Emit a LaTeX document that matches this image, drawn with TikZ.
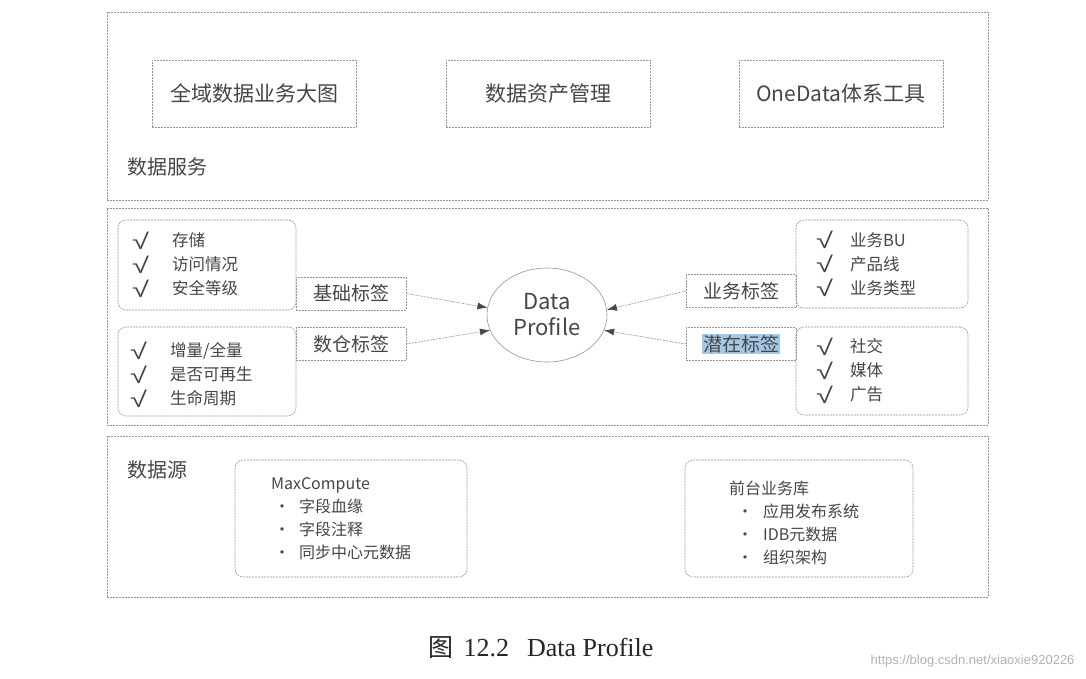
\documentclass[tikz,border=0pt]{standalone}
\usepackage{fontspec}
\usepackage{graphicx}
\setmainfont{Noto Sans CJK SC}
\newfontfamily\capfont{Liberation Serif}
\newfontfamily\markfont{Liberation Sans}
\usetikzlibrary{shapes.geometric,arrows.meta}

\definecolor{linegray}{RGB}{150,150,150}
\definecolor{inkgray}{RGB}{70,70,70}
\definecolor{hlblue}{RGB}{165,200,228}

\newcommand{\chk}{\raisebox{-2.5pt}{\scalebox{1.4}[1]{\markfont\fontsize{22}{24}\selectfont √}}}

\begin{document}
\begin{tikzpicture}[x=1pt, y=-1pt,
    dashline/.style={draw=linegray, dash pattern=on 2pt off 1pt, line width=0.6pt},
    layer/.style={dashline, inner sep=0pt},
    panel/.style={dashline, minimum width=204pt, minimum height=67pt, font=\fontsize{21}{25}\selectfont},
    itembox/.style={dashline, rounded corners=8pt, inner sep=0pt},
    tag/.style={dashline, minimum width=110pt, minimum height=33pt, inner sep=1pt, font=\fontsize{19}{22}\selectfont},
    caption/.style={anchor=west, font=\fontsize{20}{24}\selectfont},
    list/.style={anchor=west, align=left, inner sep=0pt, font=\fontsize{16.5}{24}\selectfont},
    srclist/.style={anchor=west, align=left, inner sep=0pt, font=\fontsize{16}{23}\selectfont},
    link/.style={-{Latex[length=10pt,width=7pt,color=inkgray,fill=inkgray]}, dashline}
]
\useasboundingbox[fill=white] (0,0) rectangle (1086,678);
\begin{scope}[text=inkgray]

% Data service layer
\node[layer, minimum width=881pt, minimum height=188pt] (service) at (547.5,106) {};
\node[panel] (bigmap) at (254,93.5) {全域数据业务大图};
\node[panel] (assets) at (548,93.5) {数据资产管理};
\node[panel] (tools)  at (841,93.5) {OneData体系工具};
\node[caption] (servicelbl) at (124,167) {数据服务};

% Tag layer
\node[layer, minimum width=881pt, minimum height=217pt] (tagging) at (547.5,316.5) {};
\node[itembox, minimum width=178pt, minimum height=90pt] (basicbox) at (207,265) {};
\node[itembox, minimum width=178pt, minimum height=89pt] (dwbox)    at (207,371.5) {};
\node[itembox, minimum width=172pt, minimum height=88pt] (bizbox)   at (882,264) {};
\node[itembox, minimum width=172pt, minimum height=88pt] (latbox)   at (882,371) {};

\node[list] (basiclist) at (132,266) {%
  \begin{tabular}{@{}l@{\hspace{23pt}}l@{}}\chk & 存储\\ \chk & 访问情况\\ \chk & 安全等级\end{tabular}};
\node[list] (dwlist) at (130,376) {%
  \begin{tabular}{@{}l@{\hspace{23pt}}l@{}}\chk & 增量/全量\\ \chk & 是否可再生\\ \chk & 生命周期\end{tabular}};
\node[list] (bizlist) at (816,265.5) {%
  \begin{tabular}{@{}l@{\hspace{17pt}}l@{}}\chk & 业务BU\\ \chk & 产品线\\ \chk & 业务类型\end{tabular}};
\node[list] (latlist) at (816,372) {%
  \begin{tabular}{@{}l@{\hspace{17pt}}l@{}}\chk & 社交\\ \chk & 媒体\\ \chk & 广告\end{tabular}};

\node[tag] (basic)  at (351,293.5) {基础标签};
\node[tag] (dw)     at (351,344)   {数仓标签};
\node[tag] (biz)    at (741,291)   {业务标签};
\node[tag] (latent) at (741,344)   {\setlength\fboxsep{1pt}\colorbox{hlblue}{潜在标签}};

\node[ellipse, draw=linegray, line width=0.6pt, minimum width=120pt, minimum height=94pt,
      align=center, inner sep=0pt, font=\fontsize{22}{26}\selectfont] (profile) at (547,315) {Data\\Profile};

\draw[link] (basic.east)  -- (profile.173);
\draw[link] (dw.east)     -- (profile.195);
\draw[link] (biz.west)    -- (profile.5);
\draw[link] (latent.west) -- (profile.-15);

% Data source layer
\node[layer, minimum width=881pt, minimum height=161pt] (source) at (547.5,516.5) {};
\node[caption] (sourcelbl) at (124,470) {数据源};
\node[itembox, minimum width=232pt, minimum height=117pt] (mcbox) at (351,518.5) {};
\node[itembox, minimum width=228pt, minimum height=117pt] (fgbox) at (799,518.5) {};
\node[srclist] (mclist) at (271,519) {MaxCompute\\
  \hspace*{3pt}·\hspace*{9pt}字段血缘\\
  \hspace*{3pt}·\hspace*{9pt}字段注释\\
  \hspace*{3pt}·\hspace*{9pt}同步中心元数据};
\node[srclist] (fglist) at (729,522.5) {前台业务库\\
  \hspace*{8pt}·\hspace*{10pt}应用发布系统\\
  \hspace*{8pt}·\hspace*{10pt}IDB元数据\\
  \hspace*{8pt}·\hspace*{10pt}组织架构};

\end{scope}

% caption under the figure
\node[text=black!85] (figcap) at (541,648) {{\fontsize{25}{28}\selectfont 图}\hspace{10pt}{\capfont\fontsize{26}{30}\selectfont 12.2\hspace{18pt}Data Profile}};
\node[anchor=east, text=black!30, font=\markfont\fontsize{13}{15}\selectfont] (mark) at (1078,661) {https://blog.csdn.net/xiaoxie920226};
\end{tikzpicture}
\end{document}
